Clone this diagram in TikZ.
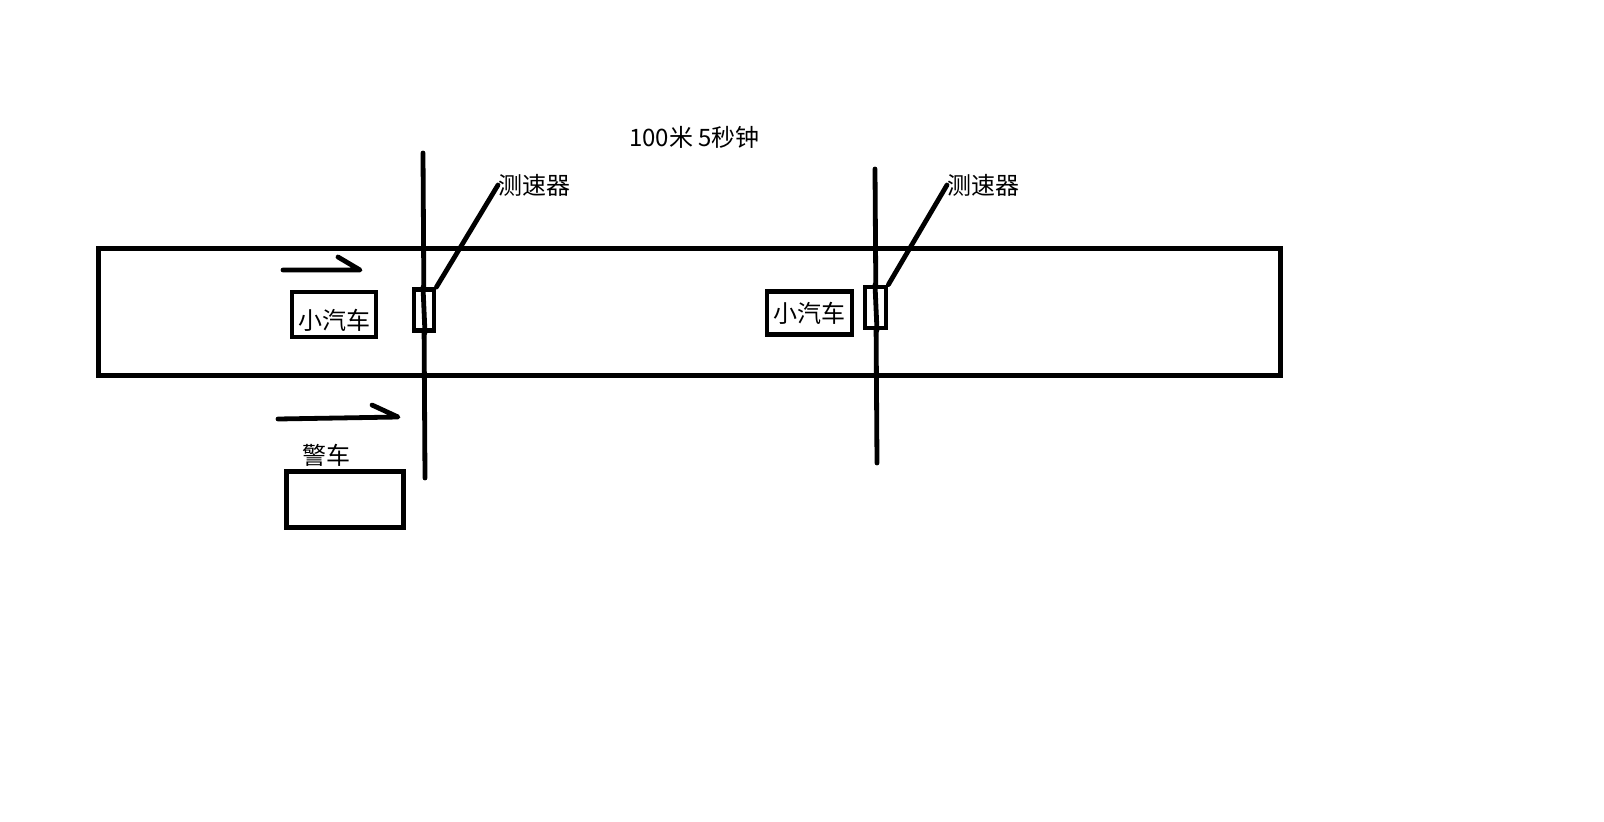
\documentclass[tikz,border=0pt]{standalone}
\usepackage{fontspec}
\newfontfamily\cjk{Noto Sans CJK SC}
\begin{document}
\begin{tikzpicture}[x=1pt,y=-1pt,
  thick line/.style={line width=4.8pt, line cap=round, line join=round},
  boxnode/.style={draw, line width=4.8pt, inner sep=0pt},
  lbl/.style={font=\cjk\fontsize{24}{29}\selectfont, inner sep=0pt}]
\useasboundingbox[fill=white] (0,0) rectangle (1604,822);
% road
\node[boxnode, line width=5pt, minimum width=1182pt, minimum height=127pt] (road) at (689.5,312) {};
% title
\node[lbl] (title) at (694.5,137) {100米 5秒钟};
% vertical lines
\coordinate (v1t) at (423,153); \coordinate (v1b) at (425,478);
\coordinate (v2t) at (875,169); \coordinate (v2b) at (877,463);
\draw[thick line] (v1t) -- (v1b);
\draw[thick line] (v2t) -- (v2b);
% sensors
\node[boxnode, fill=white, minimum width=20pt, minimum height=41pt] (s1) at (424,310) {};
\node[boxnode, fill=white, minimum width=21pt, minimum height=41pt] (s2) at (875.5,307.5) {};
\draw[thick line] (v1t |- s1.north) -- (v1b |- s1.south);
\draw[thick line] (v2t |- s2.north) -- (v2b |- s2.south);
\node[lbl, anchor=west] (l1) at (498,185) {测速器};
\node[lbl, anchor=west] (l2) at (947,185) {测速器};
\draw[thick line] (s1.north east) -- (l1.west);
\draw[thick line] (s2.north east) -- (l2.west);
% cars
\node[boxnode, lbl, draw, minimum width=84pt, minimum height=45pt, text height=30pt, text depth=0pt] (c1) at (334,314.5) {小汽车};
\node[boxnode, lbl, draw, minimum width=85pt, minimum height=43pt] (c2) at (809.5,313) {小汽车};
% police
\node[boxnode, minimum width=117pt, minimum height=56pt] (p) at (345,499.5) {};
\node[lbl] (pl) at (326,455) {警车};
% arrows
\coordinate (a1s) at (283,270); \coordinate (a1e) at (360,270); \coordinate (a1b) at (338,257);
\draw[thick line] (a1s) -- (a1e) -- (a1b);
\coordinate (a2s) at (278,419); \coordinate (a2e) at (398,417); \coordinate (a2b) at (372,405);
\draw[thick line] (a2s) -- (a2e) -- (a2b);
\end{tikzpicture}
\end{document}
